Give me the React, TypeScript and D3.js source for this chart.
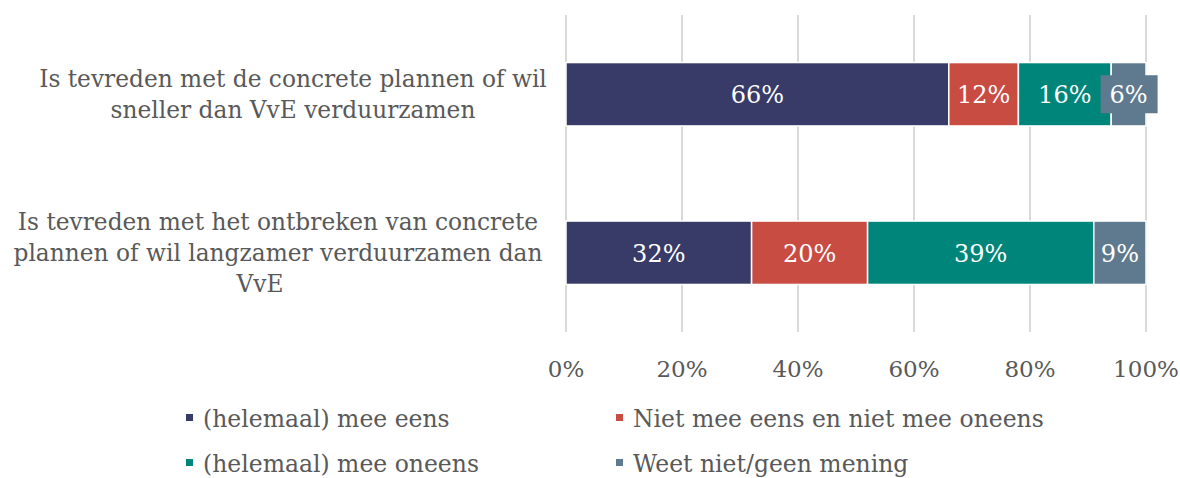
import React from "react";
import * as d3 from "d3";

const categories = [
  ["Is tevreden met de concrete plannen of wil", "sneller dan VvE verduurzamen"],
  ["Is tevreden met het ontbreken van concrete", "plannen of wil langzamer verduurzamen dan", "VvE"],
];
const seriesNames = [
  "(helemaal) mee eens",
  "Niet mee eens en niet mee oneens",
  "(helemaal) mee oneens",
  "Weet niet/geen mening",
];
const seriesColors = ["#383A67", "#C94C43", "#00857A", "#5F7A8F"];
const values = [
  [66, 12, 16, 6],
  [32, 20, 39, 9],
];
const ticks = [0, 20, 40, 60, 80, 100];

const W = 1180;
const H = 478;
const serif = "'DejaVu Serif', serif";
const labelCenters = [[293, 293], [278, 278, 260]];

export default function App() {
  const x = d3.scaleLinear().domain([0, 100]).range([566, 1146]);
  const y = d3
    .scaleBand<number>()
    .domain(d3.range(categories.length))
    .range([15, 332])
    .paddingInner(0.6)
    .paddingOuter(0.3);
  const stacks = values.map((row) => {
    let acc = 0;
    return row.map((v) => {
      const s = acc;
      acc += v;
      return [s, acc];
    });
  });
  return (
    <svg width={W} height={H} style={{ display: "block", position: "absolute", left: 0, top: 0 }}>
      <rect width={W} height={H} fill="#fff" />
      {ticks.map((t) => (
        <line key={t} x1={x(t)} x2={x(t)} y1={15} y2={332} stroke="#D9D9D9" strokeWidth={2} />
      ))}
      {ticks.map((t) => (
        <text key={"t" + t} x={x(t)} y={377} textAnchor="middle" fontFamily={serif} fontSize={23} fill="#595959">
          {t}%
        </text>
      ))}
      {categories.map((lines, i) => {
        const cy = y(i)! + y.bandwidth() / 2;
        const lh = 31;
        const start = cy - ((lines.length - 1) * lh) / 2;
        return lines.map((ln, j) => (
          <text key={i + "-" + j} x={labelCenters[i][j]} y={start + j * lh + 8} textAnchor="middle" fontFamily={serif} fontSize={23.3} fill="#595959">
            {ln}
          </text>
        ));
      })}
      {values.map((row, i) =>
        row.map((v, k) => {
          const [a, b] = stacks[i][k];
          const x0 = x(a);
          const x1 = x(b);
          const yy = y(i)!;
          const cx = (x0 + x1) / 2;
          const cy = yy + y.bandwidth() / 2;
          const small = i === 0 && k === 3;
          return (
            <g key={i + "_" + k}>
              <rect x={x0} y={yy} width={x1 - x0} height={y.bandwidth()} fill={seriesColors[k]} stroke="#fff" strokeWidth={1.5} />
              {small && <rect x={cx - 28} y={cy - 19} width={57} height={38} fill={seriesColors[k]} />}
              <text x={cx} y={cy + 9} textAnchor="middle" fontFamily={serif} fontSize={24} fill="#fff">
                {v}%
              </text>
            </g>
          );
        })
      )}
      {seriesNames.map((n, k) => {
        const col = k % 2;
        const row = Math.floor(k / 2);
        const lx = col === 0 ? 186 : 616;
        const ly = row === 0 ? 427 : 472;
        return (
          <g key={n}>
            <rect x={lx} y={ly - 13} width={7} height={7} fill={seriesColors[k]} />
            <text x={lx + 17} y={ly} fontFamily={serif} fontSize={23.5} fill="#595959">
              {n}
            </text>
          </g>
        );
      })}
    </svg>
  );
}
